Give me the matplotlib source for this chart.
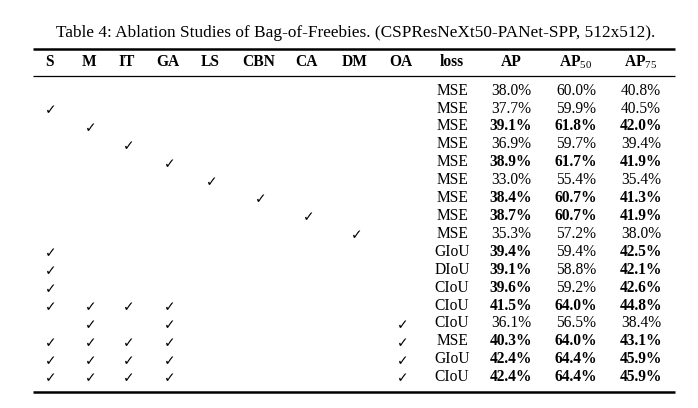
import matplotlib
matplotlib.use("Agg")
import matplotlib.pyplot as plt

plt.rcParams["font.family"] = ["Liberation Serif", "DejaVu Sans"]
plt.rcParams["mathtext.fontset"] = "custom"
plt.rcParams["mathtext.rm"] = "Liberation Serif"
plt.rcParams["mathtext.bf"] = "Liberation Serif:bold"

title = "Table 4: Ablation Studies of Bag-of-Freebies. (CSPResNeXt50-PANet-SPP, 512x512)."

bof_cols = ["S", "M", "IT", "GA", "LS", "CBN", "CA", "DM", "OA"]
metric_cols = ["loss", "AP", r"AP$_{50}$", r"AP$_{75}$"]

# which bag-of-freebies are switched on in each row
checks = [
    [],
    ["S"],
    ["M"],
    ["IT"],
    ["GA"],
    ["LS"],
    ["CBN"],
    ["CA"],
    ["DM"],
    ["S"],
    ["S"],
    ["S"],
    ["S", "M", "IT", "GA"],
    ["M", "GA", "OA"],
    ["S", "M", "IT", "GA", "OA"],
    ["S", "M", "IT", "GA", "OA"],
    ["S", "M", "IT", "GA", "OA"],
]

loss = ["MSE", "MSE", "MSE", "MSE", "MSE", "MSE", "MSE", "MSE", "MSE",
        "GIoU", "DIoU", "CIoU", "CIoU", "CIoU", "MSE", "GIoU", "CIoU"]
ap = [38.0, 37.7, 39.1, 36.9, 38.9, 33.0, 38.4, 38.7, 35.3,
      39.4, 39.1, 39.6, 41.5, 36.1, 40.3, 42.4, 42.4]
ap50 = [60.0, 59.9, 61.8, 59.7, 61.7, 55.4, 60.7, 60.7, 57.2,
        59.4, 58.8, 59.2, 64.0, 56.5, 64.0, 64.4, 64.4]
ap75 = [40.8, 40.5, 42.0, 39.4, 41.9, 35.4, 41.3, 41.9, 38.0,
        42.5, 42.1, 42.6, 44.8, 38.4, 43.1, 45.9, 45.9]

# bold flags for AP / AP50 / AP75
bold_ap = [0, 0, 1, 0, 1, 0, 1, 1, 0, 1, 1, 1, 1, 0, 1, 1, 1]
bold_ap50 = [0, 0, 1, 0, 1, 0, 1, 1, 0, 0, 0, 0, 1, 0, 1, 1, 1]
bold_ap75 = [0, 0, 1, 0, 1, 0, 1, 1, 0, 1, 1, 1, 1, 0, 1, 1, 1]

# layout (pixel coords)
col_x = [49, 89, 127, 168, 210, 259, 307, 355, 401, 452, 511, 576, 641]
header_y = 62.5
row0_y = 90.7
row_dy = 17.9
fs = 11.2

fig = plt.figure(figsize=(6.98, 4.08), dpi=100)
ax = fig.add_axes([0, 0, 1, 1])
ax.set_xlim(0, 698)
ax.set_ylim(408, 0)
ax.axis("off")

ax.text(356, 33, title, ha="center", va="center", fontsize=12.4)

ax.plot([33, 675], [48.7, 48.7], color="black", lw=1.8, solid_capstyle="butt")
ax.plot([33, 675], [75.7, 75.7], color="black", lw=0.9, solid_capstyle="butt")

for x, name in zip(col_x, bof_cols + metric_cols):
    ax.text(x, header_y, name, ha="center", va="center", fontsize=11.2,
            fontweight="bold")

for i in range(len(loss)):
    y = row0_y + i * row_dy
    for c in checks[i]:
        x = col_x[bof_cols.index(c)]
        ax.text(x + 2, y + 1.5, "\u2713", ha="center", va="center",
                fontsize=10, family="DejaVu Sans", fontweight="bold")
    ax.text(col_x[9], y, loss[i], ha="center", va="center", fontsize=fs)
    for j, (vals, bolds) in enumerate([(ap, bold_ap), (ap50, bold_ap50),
                                       (ap75, bold_ap75)]):
        ax.text(col_x[10 + j], y, f"{vals[i]:.1f}%", ha="center", va="center",
                fontsize=fs, fontweight="bold" if bolds[i] else "normal")

y_bot = row0_y + (len(loss) - 1) * row_dy + 15
ax.plot([33, 675], [y_bot, y_bot], color="black", lw=1.8, solid_capstyle="butt")

fig.savefig("out.png", dpi=100)
